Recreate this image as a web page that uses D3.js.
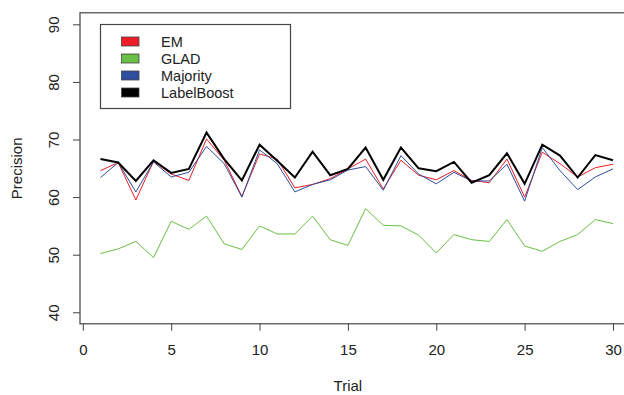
<!DOCTYPE html>
<html>
<head>
<meta charset="utf-8">
<script src="https://cdn.jsdelivr.net/npm/d3@7"></script>
<style>
  body { margin: 0; background: #fff; }
  svg { display: block; font-family: "Liberation Sans", Arial, sans-serif; }
</style>
</head>
<body>
<div id="chart"></div>
<script>
// Data
const trials = d3.range(1, 31);
const em = [64.6, 66.0, 59.5, 66.2, 64.0, 62.9, 70.1, 66.4, 60.1, 67.5,
  66.6, 61.6, 62.2, 63.2, 64.9, 66.6, 61.4, 66.4, 63.8, 63.0,
  64.6, 62.9, 62.5, 66.6, 60.0, 67.8, 65.8, 63.5, 65.1, 65.7];
const glad = [50.2, 51.0, 52.3, 49.5, 55.8, 54.4, 56.7, 51.9, 50.9, 55.0,
  53.6, 53.6, 56.7, 52.6, 51.6, 58.0, 55.1, 55.0, 53.4, 50.3,
  53.5, 52.6, 52.3, 56.1, 51.5, 50.6, 52.3, 53.5, 56.1, 55.4];
const majority = [63.4, 66.0, 60.9, 66.1, 63.5, 64.3, 68.8, 65.8, 60.0, 68.2,
  65.8, 60.9, 62.2, 63.0, 64.7, 65.3, 61.2, 67.2, 64.0, 62.3,
  64.3, 62.8, 62.8, 65.7, 59.3, 68.6, 64.6, 61.3, 63.5, 64.9];
const labelBoost = [66.6, 66.0, 62.8, 66.4, 64.2, 64.9, 71.2, 66.6, 62.9, 69.1,
  66.3, 63.4, 67.9, 63.8, 64.9, 68.6, 63.0, 68.6, 65.0, 64.5,
  66.1, 62.5, 63.8, 67.6, 62.3, 69.1, 67.2, 63.4, 67.3, 66.4];
const seriesNames = ["EM", "GLAD", "Majority", "LabelBoost"];
const xTicks = [0, 5, 10, 15, 20, 25, 30];
const yTicks = [40, 50, 60, 70, 80, 90];

const series = [
  { name: "EM", values: em, color: "#ee1c25", width: 1 },
  { name: "GLAD", values: glad, color: "#6abf45", width: 1 },
  { name: "Majority", values: majority, color: "#2e4d9f", width: 1 },
  { name: "LabelBoost", values: labelBoost, color: "#000000", width: 2 },
];

const width = 624;
const height = 395;

// Area plot (gaya R: domain diperluas 4%)
const x = d3.scaleLinear().domain([-0.16, 31.16]).range([80, 633.5]);
const y = d3.scaleLinear().domain([38, 92]).range([323.8, 12.8]);

const svg = d3.select("#chart").append("svg")
  .attr("width", width)
  .attr("height", height);

const axisColor = "#444";
const textColor = "#222";

// Kotak plot
svg.append("rect")
  .attr("x", x.range()[0])
  .attr("y", y.range()[1])
  .attr("width", x.range()[1] - x.range()[0])
  .attr("height", y.range()[0] - y.range()[1])
  .attr("fill", "none")
  .attr("stroke", axisColor)
  .attr("stroke-width", 1.2);

// Sumbu X
const xAxis = svg.append("g")
  .attr("transform", `translate(0, ${y.range()[0]})`)
  .call(d3.axisBottom(x).tickValues(xTicks).tickSize(7).tickPadding(14));
xAxis.select(".domain").remove();
xAxis.selectAll("line").attr("stroke", axisColor);
xAxis.selectAll("text")
  .style("font-size", "15px")
  .style("fill", textColor)
  .style("font-family", "Liberation Sans, Arial, sans-serif");

// Sumbu Y
const yAxis = svg.append("g")
  .attr("transform", `translate(${x.range()[0]}, 0)`)
  .call(d3.axisLeft(y).tickValues(yTicks).tickSize(7));
yAxis.select(".domain").remove();
yAxis.selectAll("line").attr("stroke", axisColor);
yAxis.selectAll("text")
  .attr("x", null)
  .attr("dy", null)
  .attr("transform", "translate(-27, 0) rotate(-90)")
  .attr("text-anchor", "middle")
  .attr("dominant-baseline", "central")
  .style("font-size", "15px")
  .style("fill", textColor)
  .style("font-family", "Liberation Sans, Arial, sans-serif");

// Judul sumbu
svg.append("text")
  .attr("x", (x(0) + x(30)) / 2)
  .attr("y", 391)
  .attr("text-anchor", "middle")
  .style("font-size", "15px")
  .style("fill", textColor)
  .text("Trial");

svg.append("text")
  .attr("transform", `translate(22, ${(y.range()[0] + y.range()[1]) / 2}) rotate(-90)`)
  .attr("text-anchor", "middle")
  .style("font-size", "15px")
  .style("fill", textColor)
  .text("Precision");

// Garis
const line = d3.line()
  .x((d, i) => x(trials[i]))
  .y((d) => y(d));

svg.selectAll("path.series")
  .data(series)
  .enter()
  .append("path")
  .attr("class", "series")
  .attr("d", (d) => line(d.values))
  .attr("fill", "none")
  .attr("stroke", (d) => d.color)
  .attr("stroke-width", (d) => d.width)
  .attr("stroke-linejoin", "miter");

// Legenda
const legend = svg.append("g").attr("transform", "translate(100.5, 24.5)");
legend.append("rect")
  .attr("width", 190)
  .attr("height", 84)
  .attr("fill", "#fff")
  .attr("stroke", axisColor)
  .attr("stroke-width", 1.2);

const items = legend.selectAll("g.item")
  .data(series)
  .enter()
  .append("g")
  .attr("class", "item")
  .attr("transform", (d, i) => `translate(0, ${17 + i * 17})`);

items.append("rect")
  .attr("x", 21)
  .attr("y", -4.5)
  .attr("width", 17.5)
  .attr("height", 9)
  .attr("fill", (d) => d.color)
  .attr("stroke", "#444")
  .attr("stroke-width", 0.8);

items.append("text")
  .attr("x", 60.5)
  .attr("dy", "0.36em")
  .style("font-size", "14.5px")
  .style("fill", textColor)
  .text((d, i) => seriesNames[i]);
</script>
</body>
</html>
